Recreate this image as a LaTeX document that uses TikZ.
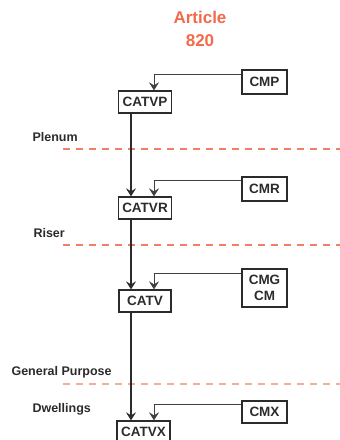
\documentclass[tikz,border=0pt]{standalone}
\usepackage{fontspec}
\setmainfont{Liberation Sans}
\usepackage{xcolor}
\usepackage{tikz}
\usetikzlibrary{arrows.meta,positioning}

\definecolor{titleorange}{HTML}{F26A4B}
\definecolor{zoneline}{HTML}{EE8066}
\definecolor{zonelight}{HTML}{F5AE9A}
\definecolor{ink}{HTML}{2B2B2B}

\begin{document}
\begin{tikzpicture}[x=1pt, y=-1pt,
    cable/.style={draw=ink, line width=1.3pt, text=ink, align=center,
      font=\fontsize{13.5}{15}\selectfont\bfseries, inner xsep=4pt, inner ysep=3pt,
      minimum height=22pt},
    catbox/.style={cable, minimum width=52pt},
    cmbox/.style={cable, minimum width=45pt, minimum height=24pt},
    zone/.style={text=ink, anchor=west, font=\fontsize{12.5}{14}\selectfont\bfseries},
    feed/.style={draw=ink!90, line width=0.8pt, -{Stealth[length=8pt, width=10pt, inset=3pt]}},
    main/.style={draw=ink, line width=1.5pt, -{Stealth[length=8pt, width=10pt, inset=3pt]}},
    divider/.style={line width=1.2pt, dash pattern=on 7pt off 6pt}]
  \useasboundingbox (0,0) rectangle (340,440);
  \node[text=titleorange, align=center, font=\fontsize{17}{23}\selectfont\bfseries]
       (title) at (200,29) {Article\\820};
  % cable types, from highest rating down
  \node[catbox] (catvp) at (145,102) {CATVP};
  \node[catbox] (catvr) at (145,208) {CATVR};
  \node[catbox] (catv) at (145,301) {CATV};
  \node[catbox, minimum width=53pt] (catvx) at (143.5,432) {CATVX};
  \node[cmbox] (cmp) at (264.5,82) {CMP};
  \node[cmbox] (cmr) at (264.5,189) {CMR};
  \node[cmbox, minimum height=38pt, inner ysep=2pt, font=\fontsize{13.5}{16}\selectfont\bfseries]
       (cmg) at (264.5,288) {CMG\\CM};
  \node[cmbox, minimum height=22pt] (cmx) at (264.5,412) {CMX};
  % zones
  \node[zone] (plenum) at (29,137) {Plenum};
  \node[zone] (riser) at (30,233) {Riser};
  \node[zone] (general) at (8,372) {General Purpose};
  \node[zone] (dwell) at (29,409) {Dwellings};
  \draw[divider, zoneline] (63,149) -- (340,149);
  \draw[divider, zoneline] (63,245) -- (340,245);
  \draw[divider, zonelight] (63,384) -- (340,384);
  % substitutions
  \draw[main] ([xshift=-14pt]catvp.south) -- ([xshift=-14pt]catvr.north);
  \draw[main] ([xshift=-14pt]catvr.south) -- ([xshift=-14pt]catv.north);
  \draw[main] ([xshift=-14pt]catv.south) -- ([xshift=-12.5pt]catvx.north);
  \draw[feed] ([yshift=-5pt]cmp.north west) -| ([xshift=9pt]catvp.north);
  \draw[feed] ([yshift=-4pt]cmr.north west) -| ([xshift=9pt]catvr.north);
  \draw[feed] ([yshift=-5pt]cmg.north west) -| ([xshift=9pt]catv.north);
  \draw[feed] ([yshift=-4pt]cmx.north west) -| ([xshift=10.5pt]catvx.north);
\end{tikzpicture}
\end{document}
